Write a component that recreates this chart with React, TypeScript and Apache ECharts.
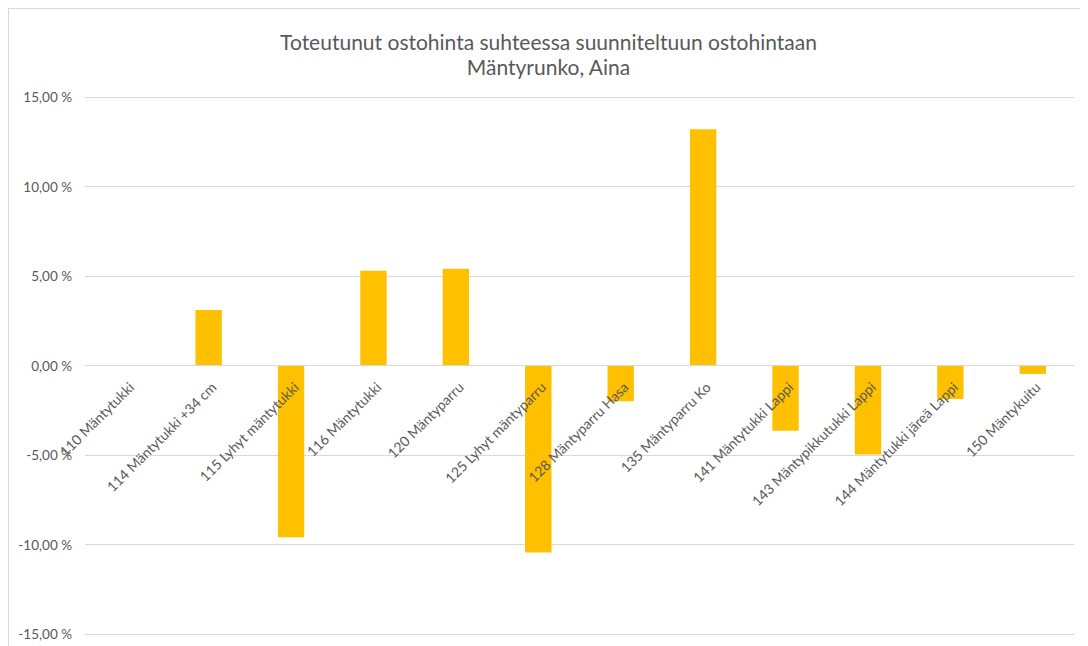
import React, { useEffect, useRef } from "react";
import * as echarts from "echarts";

const titleLines = [
  "Toteutunut ostohinta suhteessa suunniteltuun ostohintaan",
  "Mäntyrunko, Aina",
];

const categories = [
  "110 Mäntytukki",
  "114 Mäntytukki +34 cm",
  "115 Lyhyt mäntytukki",
  "116 Mäntytukki",
  "120 Mäntyparru",
  "125 Lyhyt mäntyparru",
  "128 Mäntyparru Hasa",
  "135 Mäntyparru Ko",
  "141 Mäntytukki Lappi",
  "143 Mäntypikkutukki Lappi",
  "144 Mäntytukki järeä Lappi",
  "150 Mäntykuitu",
];

const values = [0, 3.1, -9.6, 5.3, 5.4, -10.45, -2.0, 13.2, -3.65, -4.97, -1.87, -0.47];

const yMin = -15;
const yMax = 15;
const yInterval = 5;

const FONT = "Lato, 'Open Sans', sans-serif";
const TEXT = "#595959";
const GRID = "#d9d9d9";

const GRID_TOP = 88;
const GRID_BOTTOM = 12;
const CHART_H = 637;

export default function App() {
  const ref = useRef<HTMLDivElement>(null);

  useEffect(() => {
    if (!ref.current) return;
    const chart = echarts.init(ref.current, undefined, { renderer: "svg" });
    const gridH = CHART_H - GRID_TOP - GRID_BOTTOM;
    // place the category axis (line and labels) on the zero line
    const zeroOffset = -((0 - yMin) / (yMax - yMin)) * gridH;
    chart.setOption({
      animation: false,
      backgroundColor: "#ffffff",
      title: {
        text: titleLines.join("\n"),
        left: "center",
        top: 15,
        textStyle: {
          fontFamily: FONT,
          fontSize: 21,
          fontWeight: "normal",
          color: TEXT,
          lineHeight: 25,
        },
      },
      grid: {
        left: 76,
        right: 14,
        top: GRID_TOP,
        bottom: GRID_BOTTOM,
        containLabel: false,
        outerBoundsMode: "none",
      },
      xAxis: {
        type: "category",
        data: categories,
        offset: zeroOffset,
        z: 10,
        axisTick: { show: false },
        axisLine: { onZero: false, lineStyle: { color: GRID, width: 1 } },
        axisLabel: {
          interval: 0,
          rotate: 45,
          margin: 14,
          align: "right",
          verticalAlign: "top",
          fontFamily: FONT,
          fontSize: 14,
          color: TEXT,
        },
        splitLine: { show: false },
      },
      yAxis: {
        type: "value",
        min: yMin,
        max: yMax,
        interval: yInterval,
        axisLine: { show: false },
        axisTick: { show: false },
        axisLabel: {
          margin: 13,
          fontFamily: FONT,
          fontSize: 13.5,
          color: TEXT,
          formatter: (v: number) => v.toFixed(2).replace(".", ",") + " %",
        },
        splitLine: { lineStyle: { color: GRID, width: 1 } },
      },
      series: [
        {
          type: "bar",
          data: values,
          z: 2,
          barCategoryGap: "68%",
          itemStyle: { color: "#FFC000" },
        },
      ],
    });
    return () => chart.dispose();
  }, []);

  return (
    <div
      style={{
        width: 1080,
        height: 638,
        borderTop: "1px solid #d9d9d9",
        borderLeft: "1px solid #d9d9d9",
        boxSizing: "border-box",
      }}
    >
      <div ref={ref} style={{ width: 1079, height: 637 }} />
    </div>
  );
}
